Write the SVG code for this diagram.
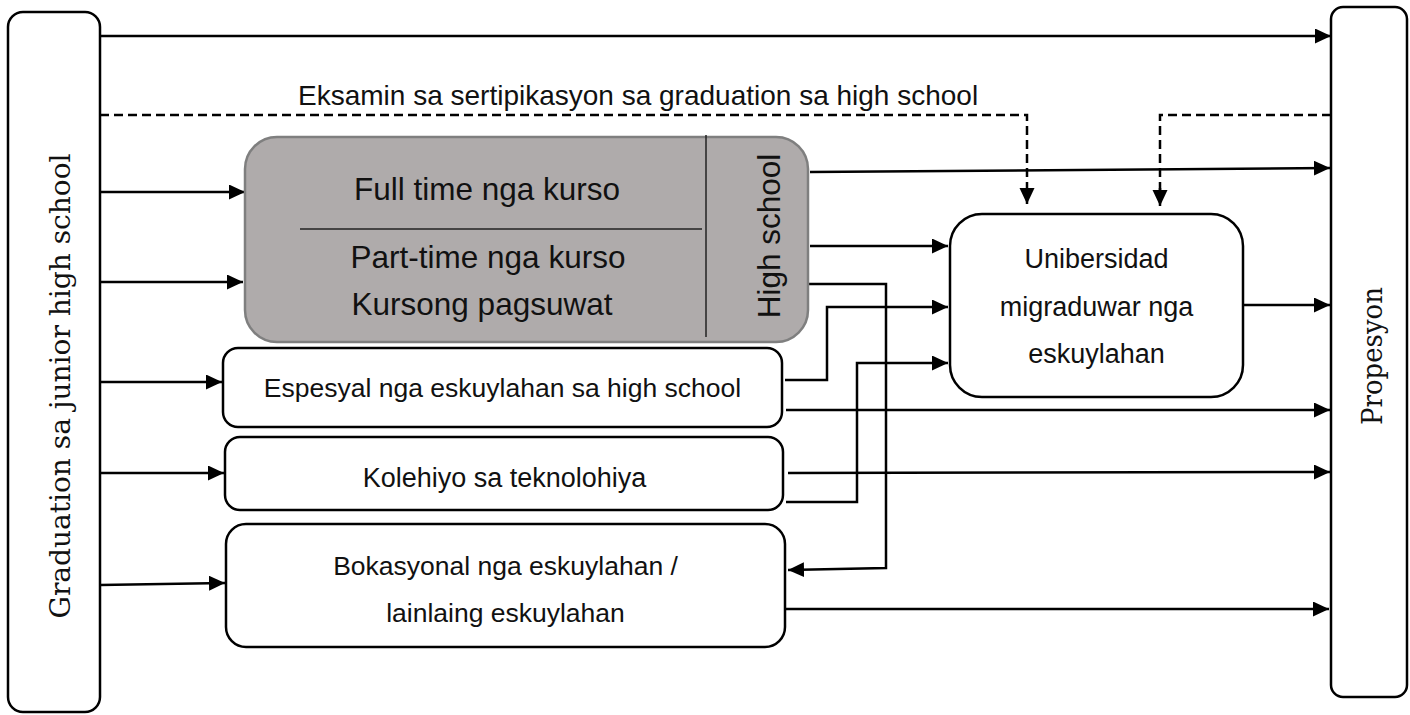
<svg xmlns="http://www.w3.org/2000/svg" width="1410" height="715" viewBox="0 0 1410 715">
<defs>
<marker id="ah" markerUnits="userSpaceOnUse" markerWidth="17" markerHeight="16" refX="16" refY="7.5" orient="auto">
<path d="M0,0 L16,7.5 L0,15 Z" fill="#000"/>
</marker>
<style>
.box{fill:#fff;stroke:#000;stroke-width:2.5}
.gray{fill:#afabab;stroke:#7f7f7f;stroke-width:2.5}
.ln{fill:none;stroke:#000;stroke-width:2.5}
.arr{fill:none;stroke:#000;stroke-width:2.5;marker-end:url(#ah)}
.dash{fill:none;stroke:#000;stroke-width:2.5;stroke-dasharray:9 5}
.sans{font-family:"Liberation Sans",Arial,sans-serif;fill:#111}
.serif{font-family:"DejaVu Serif",serif;fill:#111}
</style>
</defs>
<rect width="1410" height="715" fill="#fff"/>

<g id="connectors">
<line class="arr" x1="100" y1="36" x2="1331" y2="36"/>
<polyline class="dash" points="100,115 1027,115 1027,190"/>
<line class="arr" x1="1027" y1="188" x2="1027" y2="204"/>
<polyline class="dash" points="1331,115 1160,115 1160,190"/>
<line class="arr" x1="1160" y1="188" x2="1160" y2="206"/>
<line class="arr" x1="100" y1="192" x2="245" y2="192"/>
<line class="arr" x1="100" y1="282" x2="243" y2="282"/>
<line class="arr" x1="100" y1="382" x2="222" y2="382"/>
<line class="arr" x1="100" y1="473" x2="224" y2="473"/>
<line class="arr" x1="100" y1="585" x2="225" y2="583"/>
<line class="arr" x1="810" y1="172" x2="1330" y2="168"/>
<line class="arr" x1="810" y1="246" x2="948" y2="246"/>
<polyline class="arr" points="808,284 886,284 886,568 788,570"/>
<polyline class="arr" points="785,380 827,380 827,307 948,307"/>
<line class="arr" x1="786" y1="410" x2="1330" y2="410"/>
<polyline class="arr" points="786,502 857,502 857,363 948,363"/>
<line class="arr" x1="788" y1="473" x2="1330" y2="472"/>
<line class="arr" x1="785" y1="609" x2="1329" y2="609"/>
<line class="arr" x1="1243" y1="305" x2="1330" y2="305"/>
<text class="sans" x="298" y="105" font-size="28" fill="#222">Eksamin sa sertipikasyon sa graduation sa high school</text>
</g>

<g id="node-graduation">
<rect class="box" x="8" y="12" width="92" height="700" rx="15"/>
<text class="serif" transform="translate(70,386) rotate(-90)" font-size="28" text-anchor="middle" textLength="465" lengthAdjust="spacingAndGlyphs">Graduation sa junior high school</text>
</g>

<g id="node-propesyon">
<rect class="box" x="1331" y="7" width="76" height="690" rx="12"/>
<text class="serif" transform="translate(1382,356) rotate(-90)" font-size="28" text-anchor="middle" textLength="138" lengthAdjust="spacingAndGlyphs">Propesyon</text>
</g>

<g id="node-highschool">
<rect class="gray" x="245" y="137" width="563" height="205" rx="32"/>
<line x1="300" y1="229" x2="702" y2="229" stroke="#222" stroke-width="1.5"/>
<line x1="706" y1="135" x2="706" y2="337" stroke="#222" stroke-width="1.5"/>
<text class="sans" x="487" y="200" font-size="31.5" text-anchor="middle">Full time nga kurso</text>
<text class="sans" x="488" y="268" font-size="31.5" text-anchor="middle">Part-time nga kurso</text>
<text class="sans" x="482" y="315" font-size="31.5" text-anchor="middle">Kursong pagsuwat</text>
<text class="sans" transform="translate(780,236) rotate(-90)" font-size="31.5" text-anchor="middle">High school</text>
</g>

<g id="node-espesyal">
<rect class="box" x="223" y="348" width="559" height="79" rx="15"/>
<text class="sans" x="502.5" y="397" font-size="26.5" text-anchor="middle">Espesyal nga eskuylahan sa high school</text>
</g>

<g id="node-kolehiyo">
<rect class="box" x="225" y="437" width="558" height="73" rx="15"/>
<text class="sans" x="504.5" y="487" font-size="27" text-anchor="middle">Kolehiyo sa teknolohiya</text>
</g>

<g id="node-bokasyonal">
<rect class="box" x="226" y="524" width="559" height="123" rx="20"/>
<text class="sans" x="505.5" y="575" font-size="26.5" text-anchor="middle">Bokasyonal nga eskuylahan /</text>
<text class="sans" x="505.5" y="622" font-size="26.5" text-anchor="middle">lainlaing eskuylahan</text>
</g>

<g id="node-unibersidad">
<rect class="box" x="950" y="214" width="293" height="183" rx="32"/>
<text class="sans" x="1096.5" y="268" font-size="27" text-anchor="middle">Unibersidad</text>
<text class="sans" x="1096.5" y="316" font-size="27" text-anchor="middle">migraduwar nga</text>
<text class="sans" x="1096.5" y="363" font-size="27" text-anchor="middle">eskuylahan</text>
</g>
</svg>
